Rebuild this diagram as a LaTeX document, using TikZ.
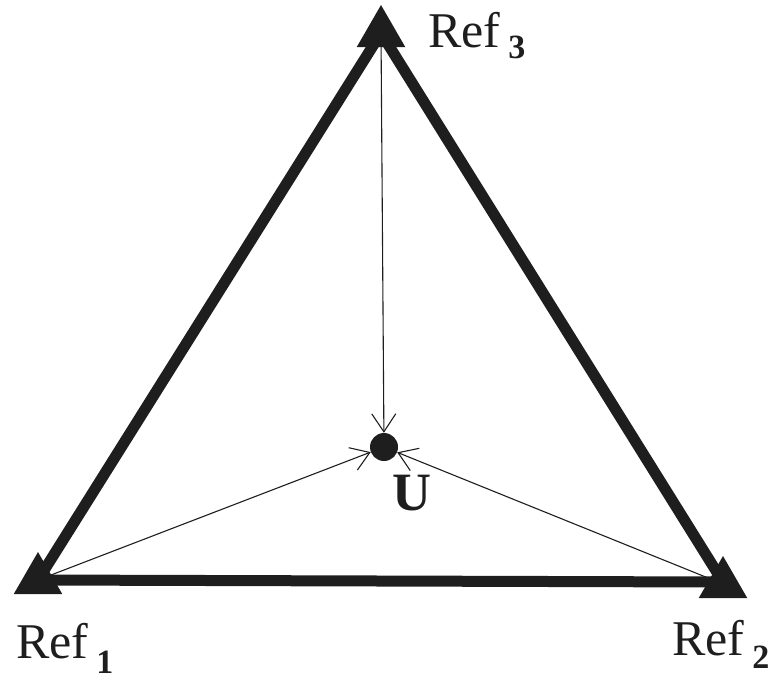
\documentclass[tikz,border=0pt]{standalone}
\usepackage{fontspec}
\setmainfont{Liberation Serif}
\usetikzlibrary{shapes.geometric,arrows.meta}
\definecolor{ink}{RGB}{30,30,30}
\tikzset{
  marker/.style={regular polygon, regular polygon sides=3, fill=ink, draw=none, minimum size=56pt, inner sep=0pt},
  edge/.style={draw=ink, line width=11pt},
  ray/.style={draw=ink, line width=1.1pt, -{Straight Barb[length=18pt,width=24pt,line width=1.1pt]}},
  dot/.style={circle, fill=ink, minimum size=28pt, inner sep=0pt},
  reflabel/.style={anchor=base west, inner sep=0pt, font=\fontsize{50}{50}\selectfont, text=ink}
}
\newcommand{\refsub}[2]{\hspace{8pt}\raisebox{#1}{\fontsize{34}{34}\selectfont\bfseries #2}}
\begin{document}
\begin{tikzpicture}[x=1pt,y=-1pt]
\useasboundingbox (0,0) rectangle (779,681);
\coordinate (tc) at (381,33);
\coordinate (lc) at (38,580);
\coordinate (rc) at (723,582);
\draw[edge] (tc) -- (lc) -- (rc) -- cycle;
\node[marker] (t) at (381,33) {};
\node[marker] (l) at (38,580) {};
\node[marker] (r) at (723,584) {};
\node[dot] (u) at (384,447) {};
\draw[ray] (t.center) -- (u);
\draw[ray] (l.center) -- (u);
\draw[ray] (r.center) -- (u);
\node[reflabel] (lab3) at (428,47) {Ref\refsub{-11pt}{3}};
\node[reflabel] (lab1) at (16,658) {Ref\refsub{-15pt}{1}};
\node[reflabel] (lab2) at (672,655) {Ref\refsub{-13pt}{2}};
\node[anchor=base west, inner sep=0pt, font=\fontsize{54}{54}\selectfont\bfseries, text=ink] (ulab) at (392,510) {U};
\end{tikzpicture}
\end{document}
